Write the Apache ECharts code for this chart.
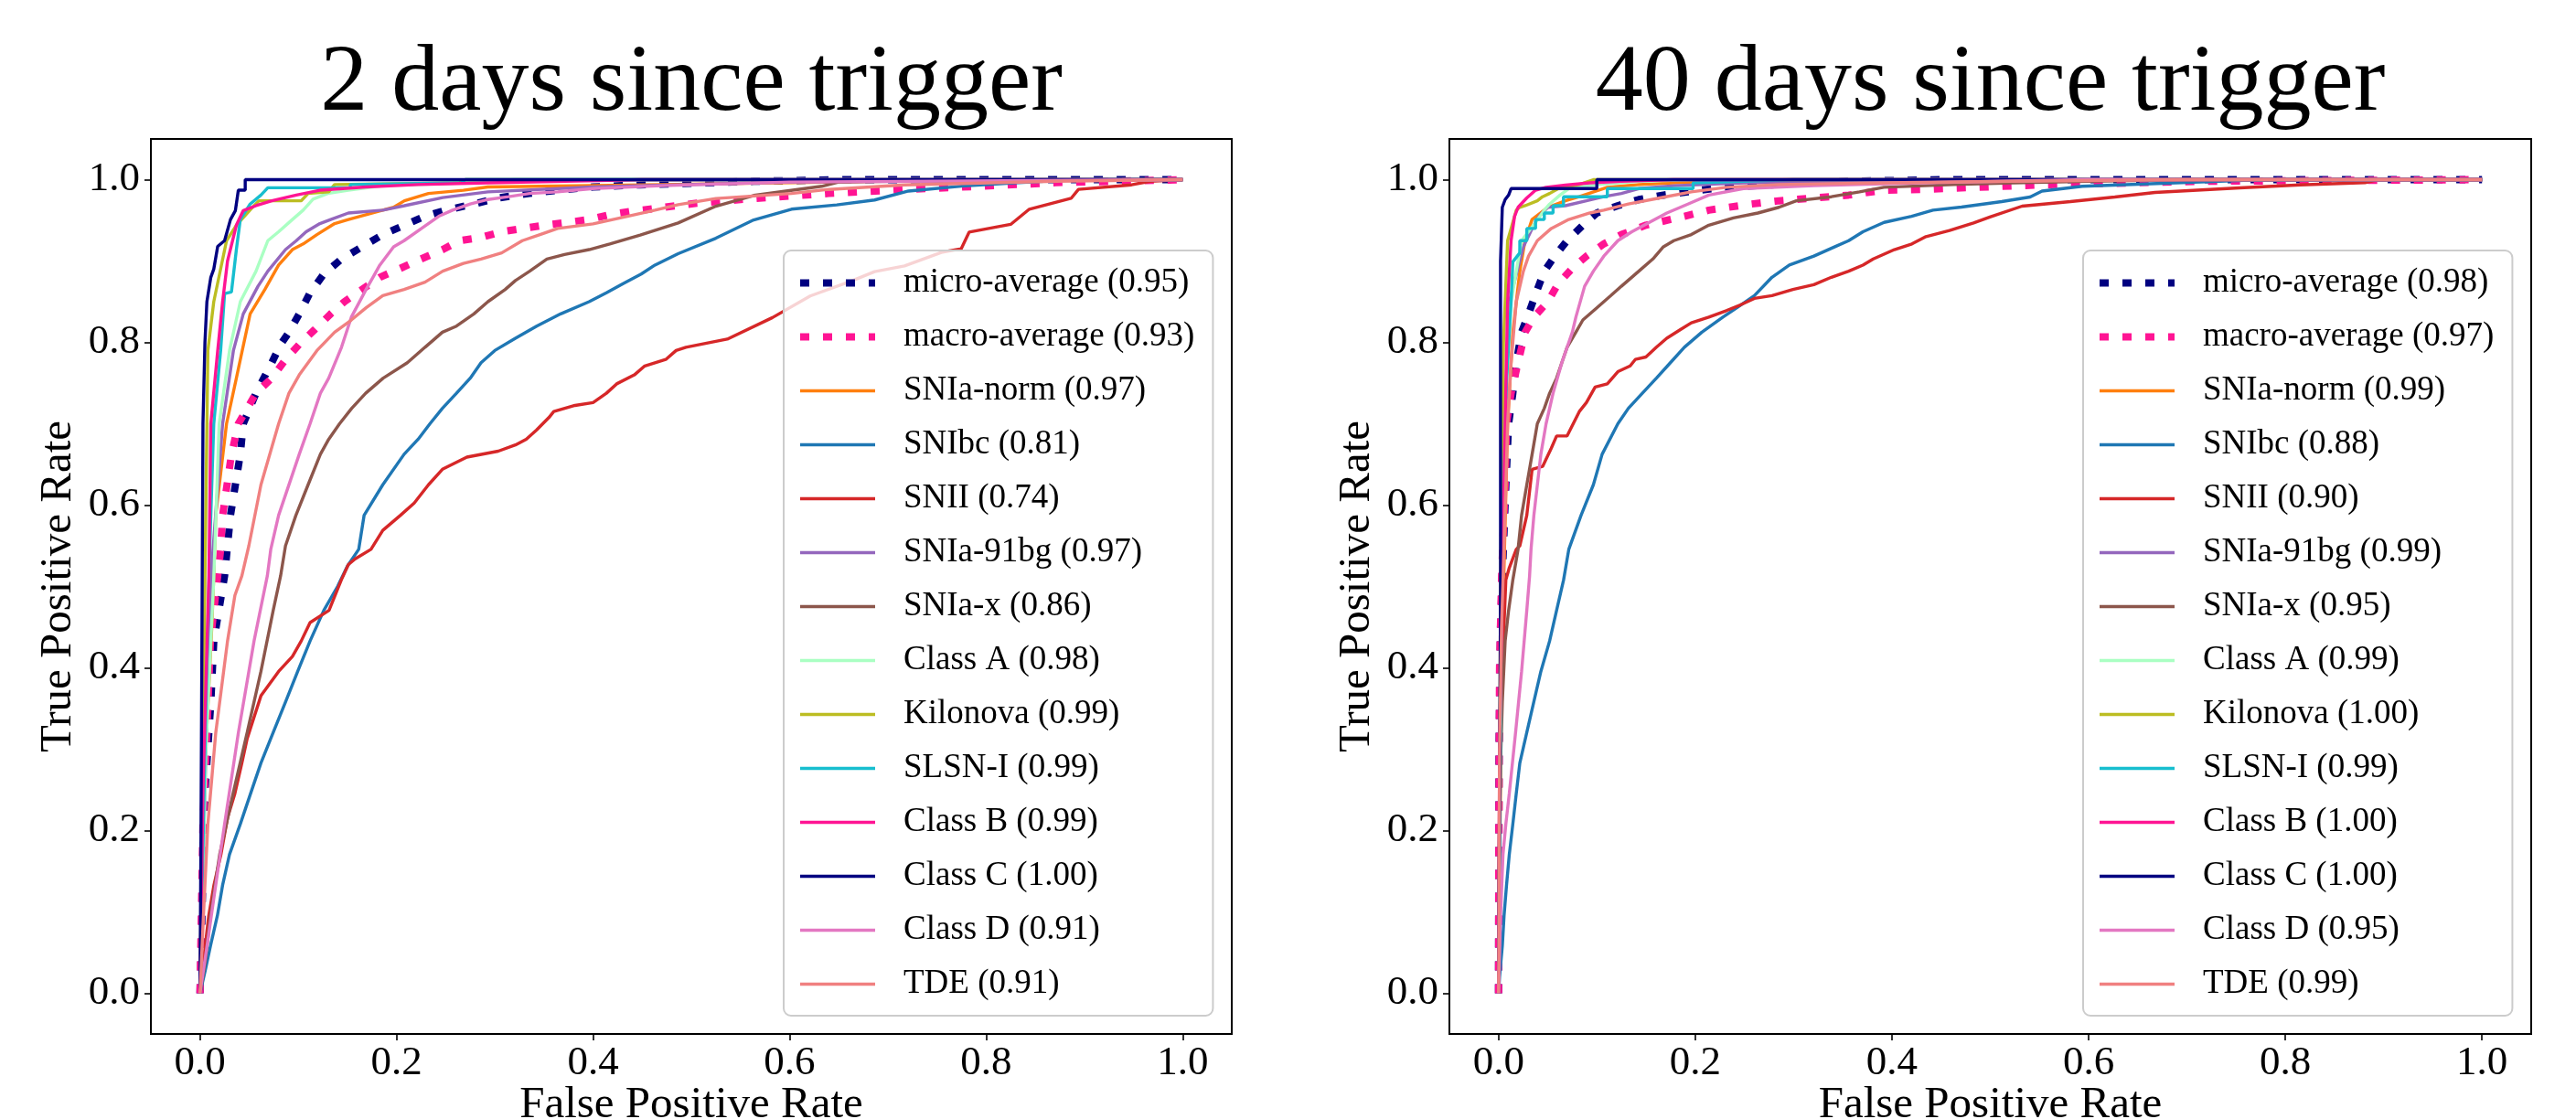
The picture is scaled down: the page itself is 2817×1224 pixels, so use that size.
<!DOCTYPE html>
<html>
<head>
<meta charset="utf-8">
<script src="https://cdn.jsdelivr.net/npm/echarts@6/dist/echarts.min.js"></script>
<style>html,body{margin:0;padding:0;background:#fff}#c{width:2817px;height:1224px}</style>
</head>
<body>
<div id="c"></div>
<script>
// ---------- data ----------
const panelTitles = ['2 days since trigger', '40 days since trigger'];
const classNames = ['micro-average','macro-average','SNIa-norm','SNIbc','SNII','SNIa-91bg','SNIa-x','Class A','Kilonova','SLSN-I','Class B','Class C','Class D','TDE'];
const aucDay2  = ['0.95','0.93','0.97','0.81','0.74','0.97','0.86','0.98','0.99','0.99','0.99','1.00','0.91','0.91'];
const aucDay40 = ['0.98','0.97','0.99','0.88','0.90','0.99','0.95','0.99','1.00','0.99','1.00','1.00','0.95','0.99'];
const tickValues = [0, 0.2, 0.4, 0.6, 0.8, 1.0];
const tickLabels = ['0.0','0.2','0.4','0.6','0.8','1.0'];
const xAxisName = 'False Positive Rate';
const yAxisName = 'True Positive Rate';

// day 2 ROC curves [FPR, TPR]
const d2_micro = [[0,0],[0.002,0.096],[0.005,0.246],[0.011,0.358],[0.014,0.433],[0.025,0.513],[0.031,0.5875],[0.041,0.6625],[0.044,0.70],[0.057,0.7375],[0.073,0.775],[0.082,0.7975],[0.0905,0.8125],[0.101,0.835],[0.112,0.861],[0.126,0.884],[0.144,0.9025],[0.165,0.9175],[0.186,0.9325],[0.208,0.944],[0.229,0.955],[0.250,0.9625],[0.279,0.97],[0.3035,0.9775],[0.335,0.983],[0.364,0.987],[0.40,0.991],[0.448,0.9936],[0.5635,0.998],[0.65,1],[1,1]];
const d2_macro = [[0,0],[0.003,0.208],[0.007,0.32],[0.0106,0.433],[0.021,0.5456],[0.023,0.5875],[0.032,0.6625],[0.039,0.70],[0.057,0.7375],[0.073,0.756],[0.087,0.779],[0.101,0.7975],[0.117,0.816],[0.133,0.835],[0.147,0.85],[0.165,0.865],[0.183,0.88],[0.204,0.891],[0.225,0.9025],[0.247,0.914],[0.264,0.925],[0.286,0.929],[0.307,0.936],[0.35,0.944],[0.3745,0.9475],[0.396,0.951],[0.417,0.957],[0.438,0.961],[0.46,0.964],[0.4845,0.968],[0.5056,0.971],[0.5635,0.9768],[0.64,0.983],[0.717,0.988],[0.794,0.9918],[0.871,0.9963],[1,1]];
const d2_snia_norm = [[0,0],[0.002,0.1],[0.005,0.28],[0.012,0.45],[0.014,0.513],[0.016,0.5875],[0.027,0.70],[0.037,0.756],[0.043,0.79],[0.051,0.835],[0.066,0.865],[0.080,0.895],[0.094,0.914],[0.105,0.921],[0.119,0.9325],[0.137,0.946],[0.151,0.951],[0.186,0.9625],[0.197,0.966],[0.208,0.974],[0.2325,0.983],[0.268,0.987],[0.293,0.991],[0.47,0.994],[0.7,0.998],[1,1]];
const d2_snibc = [[0,0],[0.0053,0.028],[0.0106,0.058],[0.0177,0.0956],[0.023,0.133],[0.030,0.1706],[0.041,0.208],[0.0515,0.2456],[0.062,0.283],[0.0745,0.3206],[0.087,0.358],[0.0994,0.3956],[0.112,0.433],[0.126,0.4706],[0.140,0.50],[0.150,0.525],[0.1615,0.5456],[0.167,0.5875],[0.186,0.625],[0.2077,0.6625],[0.222,0.681],[0.234,0.70],[0.2467,0.719],[0.261,0.7375],[0.275,0.756],[0.286,0.775],[0.300,0.79],[0.321,0.805],[0.3426,0.82],[0.367,0.835],[0.396,0.85],[0.4136,0.861],[0.431,0.8725],[0.449,0.884],[0.463,0.895],[0.4866,0.909],[0.525,0.928],[0.5635,0.9505],[0.602,0.9637],[0.648,0.969],[0.6865,0.975],[0.721,0.986],[0.775,0.992],[0.8327,0.9963],[0.89,1],[1,1]];
const d2_snii = [[0,0],[0.0053,0.058],[0.0089,0.0956],[0.0142,0.133],[0.0213,0.1706],[0.028,0.2156],[0.0355,0.2456],[0.0426,0.283],[0.048,0.313],[0.055,0.3393],[0.062,0.3656],[0.080,0.3956],[0.094,0.414],[0.103,0.433],[0.112,0.4556],[0.1313,0.4706],[0.1438,0.508],[0.151,0.527],[0.158,0.534],[0.174,0.5456],[0.186,0.569],[0.204,0.5875],[0.218,0.6025],[0.2325,0.625],[0.2467,0.644],[0.2716,0.659],[0.3035,0.6663],[0.321,0.674],[0.332,0.681],[0.3426,0.6925],[0.355,0.7075],[0.360,0.715],[0.3816,0.7225],[0.40,0.726],[0.4136,0.7375],[0.424,0.749],[0.442,0.76],[0.4526,0.771],[0.474,0.779],[0.4845,0.79],[0.4945,0.794],[0.5366,0.804],[0.5826,0.8305],[0.621,0.857],[0.663,0.8755],[0.6865,0.887],[0.717,0.894],[0.7557,0.911],[0.7746,0.915],[0.7827,0.9355],[0.825,0.945],[0.844,0.9637],[0.8865,0.977],[0.894,0.988],[0.948,0.9936],[0.967,0.998],[1,1]];
const d2_snia_91bg = [[0,0],[0.005,0.25],[0.011,0.51],[0.023,0.70],[0.034,0.79],[0.044,0.835],[0.059,0.869],[0.069,0.8875],[0.087,0.914],[0.098,0.925],[0.108,0.936],[0.122,0.946],[0.133,0.951],[0.151,0.959],[0.186,0.9625],[0.208,0.968],[0.247,0.978],[0.293,0.985],[0.40,0.991],[0.6,0.997],[1,1]];
const d2_snia_x = [[0,0],[0.0053,0.039],[0.0106,0.0956],[0.020,0.1706],[0.0337,0.2456],[0.048,0.3206],[0.062,0.3956],[0.0745,0.4706],[0.082,0.513],[0.087,0.55],[0.0976,0.5875],[0.110,0.625],[0.1225,0.6625],[0.131,0.681],[0.142,0.70],[0.1544,0.719],[0.1686,0.7375],[0.1864,0.756],[0.211,0.775],[0.229,0.794],[0.2467,0.8125],[0.261,0.82],[0.2787,0.835],[0.293,0.85],[0.3106,0.865],[0.321,0.876],[0.3355,0.8875],[0.353,0.9025],[0.371,0.908],[0.396,0.914],[0.417,0.921],[0.448,0.932],[0.4866,0.9468],[0.525,0.9674],[0.5635,0.9806],[0.6327,0.9918],[0.65,0.997],[0.756,1],[1,1]];
const d2_class_a = [[0,0],[0.006,0.3],[0.014,0.51],[0.0195,0.70],[0.030,0.79],[0.041,0.85],[0.057,0.8875],[0.069,0.925],[0.080,0.936],[0.094,0.951],[0.105,0.9625],[0.115,0.976],[0.130,0.983],[0.151,0.987],[0.186,0.9925],[0.257,0.9955],[0.32,1],[1,1]];
const d2_kilonova = [[0,0],[0.003,0.3],[0.005,0.51],[0.008,0.79],[0.014,0.85],[0.027,0.925],[0.037,0.944],[0.055,0.968],[0.060,0.974],[0.103,0.974],[0.110,0.983],[0.131,0.985],[0.137,0.994],[0.264,0.996],[0.27,1],[1,1]];
const d2_slsn = [[0,0],[0.005,0.3],[0.01,0.55],[0.014,0.70],[0.021,0.79],[0.025,0.86],[0.032,0.862],[0.037,0.914],[0.041,0.951],[0.051,0.97],[0.062,0.981],[0.069,0.99],[0.153,0.99],[0.153,0.994],[0.266,0.996],[0.27,1],[1,1]];
const d2_class_b = [[0,0],[0.003,0.25],[0.009,0.51],[0.011,0.70],[0.018,0.79],[0.023,0.85],[0.028,0.90],[0.037,0.944],[0.044,0.962],[0.057,0.968],[0.073,0.974],[0.098,0.981],[0.122,0.987],[0.169,0.991],[0.222,0.994],[0.293,0.996],[0.45,1],[1,1]];
const d2_class_c = [[0,0],[0.001,0.2],[0.002,0.45],[0.003,0.7],[0.005,0.8],[0.007,0.85],[0.011,0.88],[0.014,0.89],[0.018,0.918],[0.025,0.925],[0.031,0.951],[0.036,0.962],[0.039,0.987],[0.046,0.987],[0.046,1.0],[1,1]];
const d2_class_d = [[0,0],[0.0071,0.058],[0.016,0.133],[0.025,0.208],[0.039,0.32],[0.055,0.433],[0.0685,0.513],[0.072,0.5456],[0.080,0.5875],[0.101,0.6625],[0.112,0.70],[0.1225,0.7375],[0.131,0.756],[0.144,0.794],[0.154,0.831],[0.169,0.865],[0.176,0.88],[0.183,0.895],[0.197,0.9175],[0.2077,0.925],[0.2254,0.94],[0.243,0.955],[0.257,0.9625],[0.275,0.97],[0.293,0.9756],[0.314,0.979],[0.3355,0.983],[0.364,0.985],[0.40,0.989],[0.47,0.9925],[0.6,0.997],[1,1]];
const d2_tde = [[0,0],[0.0035,0.0956],[0.008,0.208],[0.016,0.32],[0.028,0.433],[0.0355,0.489],[0.0426,0.513],[0.0497,0.55],[0.062,0.625],[0.080,0.70],[0.0905,0.7375],[0.101,0.76],[0.119,0.79],[0.137,0.8125],[0.154,0.8275],[0.169,0.8425],[0.186,0.8575],[0.2077,0.865],[0.229,0.874],[0.247,0.8875],[0.268,0.897],[0.286,0.9025],[0.307,0.91],[0.328,0.925],[0.346,0.9325],[0.364,0.94],[0.40,0.9456],[0.435,0.955],[0.463,0.9625],[0.4866,0.9693],[0.525,0.9768],[0.602,0.983],[0.64,0.988],[0.717,0.9936],[0.871,0.998],[1,1]];

// day 40 ROC curves [FPR, TPR]
const d40_micro = [[0,0],[0.0005,0.3],[0.002,0.45],[0.0038,0.5126],[0.0074,0.625],[0.0102,0.70],[0.0145,0.7375],[0.018,0.775],[0.0234,0.8125],[0.0305,0.835],[0.0394,0.865],[0.0465,0.8875],[0.0572,0.906],[0.0697,0.925],[0.0857,0.944],[0.0999,0.959],[0.1213,0.968],[0.1426,0.9756],[0.1676,0.981],[0.1925,0.985],[0.228,0.9906],[0.285,0.994],[0.356,0.998],[0.45,1],[1,1]];
const d40_macro = [[0,0],[0.0003,0.2],[0.001,0.4],[0.0031,0.5126],[0.0067,0.625],[0.0081,0.70],[0.0127,0.7375],[0.0198,0.775],[0.027,0.8125],[0.0358,0.831],[0.0501,0.85],[0.0608,0.8725],[0.075,0.891],[0.0893,0.906],[0.107,0.921],[0.1249,0.9325],[0.1498,0.944],[0.189,0.955],[0.2138,0.9625],[0.2566,0.97],[0.285,0.974],[0.3206,0.9775],[0.356,0.981],[0.392,0.987],[0.43,0.988],[0.5526,0.9936],[0.716,0.998],[1,1]];
const d40_snia_norm = [[0,0],[0.003,0.4],[0.0092,0.70],[0.0145,0.8125],[0.0216,0.8875],[0.0269,0.925],[0.034,0.951],[0.0501,0.966],[0.0679,0.974],[0.082,0.979],[0.1106,0.9906],[0.1426,0.994],[0.2138,0.998],[0.3,1],[1,1]];
const d40_snibc = [[0,0],[0.001,0.02],[0.0038,0.058],[0.0056,0.0956],[0.0081,0.133],[0.0109,0.1706],[0.0145,0.208],[0.018,0.2456],[0.0216,0.283],[0.0287,0.3206],[0.0358,0.358],[0.043,0.3956],[0.0519,0.433],[0.059,0.4706],[0.0661,0.508],[0.0714,0.5456],[0.0839,0.5875],[0.0964,0.625],[0.1053,0.6625],[0.1213,0.70],[0.132,0.719],[0.1462,0.7375],[0.1605,0.756],[0.1747,0.775],[0.1889,0.794],[0.2067,0.8125],[0.2281,0.831],[0.2423,0.8425],[0.2601,0.8575],[0.278,0.88],[0.2957,0.895],[0.3206,0.906],[0.342,0.9175],[0.356,0.925],[0.3705,0.936],[0.392,0.9475],[0.42,0.955],[0.4417,0.9625],[0.4707,0.9663],[0.5116,0.973],[0.5405,0.9786],[0.5526,0.986],[0.5935,0.9918],[0.6757,0.9955],[0.758,0.999],[1,1]];
const d40_snii = [[0,0],[0.001,0.283],[0.002,0.358],[0.0049,0.433],[0.0074,0.508],[0.0109,0.523],[0.018,0.5456],[0.0216,0.55],[0.0287,0.5875],[0.0341,0.644],[0.0448,0.6475],[0.0536,0.67],[0.059,0.685],[0.0697,0.685],[0.0821,0.715],[0.0893,0.726],[0.0982,0.745],[0.1106,0.749],[0.1213,0.764],[0.1338,0.771],[0.139,0.779],[0.1498,0.782],[0.1605,0.794],[0.171,0.805],[0.1853,0.816],[0.196,0.824],[0.2138,0.831],[0.2316,0.839],[0.2459,0.846],[0.2601,0.854],[0.278,0.8575],[0.2993,0.865],[0.3206,0.871],[0.3384,0.88],[0.356,0.8875],[0.3705,0.895],[0.381,0.9025],[0.4025,0.914],[0.4203,0.921],[0.4346,0.93],[0.4585,0.9374],[0.483,0.9468],[0.4996,0.954],[0.5323,0.9674],[0.5815,0.973],[0.6266,0.9786],[0.6675,0.9843],[0.7535,0.9899],[0.815,0.9936],[0.881,0.9963],[0.894,1],[1,1]];
const d40_snia_91bg = [[0,0],[0.002,0.4],[0.006,0.7],[0.011,0.85],[0.0252,0.9175],[0.0358,0.944],[0.0412,0.955],[0.0501,0.966],[0.0679,0.968],[0.0893,0.974],[0.107,0.979],[0.1249,0.983],[0.1426,0.989],[0.178,0.9925],[0.249,0.996],[0.392,0.998],[0.5,1],[1,1]];
const d40_snia_x = [[0,0],[0.001,0.2],[0.002,0.283],[0.0038,0.358],[0.0067,0.433],[0.0102,0.4706],[0.0145,0.508],[0.0198,0.5456],[0.0234,0.5875],[0.0287,0.625],[0.0341,0.6625],[0.0394,0.70],[0.0465,0.719],[0.0519,0.7375],[0.059,0.756],[0.0643,0.775],[0.0697,0.794],[0.0786,0.8125],[0.0857,0.8275],[0.0999,0.8425],[0.1142,0.8575],[0.1249,0.869],[0.1426,0.8875],[0.1569,0.9025],[0.1676,0.9175],[0.1782,0.925],[0.196,0.9325],[0.2138,0.944],[0.2388,0.953],[0.2637,0.959],[0.2851,0.966],[0.3028,0.974],[0.3384,0.979],[0.367,0.985],[0.3918,0.9906],[0.463,0.994],[0.523,0.996],[0.6,0.998],[0.7,1],[1,1]];
const d40_class_a = [[0,0],[0.002,0.4],[0.0056,0.70],[0.0127,0.85],[0.0234,0.925],[0.0376,0.9475],[0.0465,0.9625],[0.0519,0.97],[0.0625,0.981],[0.0714,0.989],[0.0999,0.994],[0.1426,0.998],[0.2,1],[1,1]];
const d40_kilonova = [[0,0],[0.002,0.5],[0.005,0.8],[0.0092,0.925],[0.018,0.9625],[0.0215,0.966],[0.027,0.968],[0.0394,0.974],[0.0447,0.979],[0.0519,0.983],[0.0608,0.989],[0.082,0.994],[0.0964,1],[1,1]];
const d40_slsn = [[0,0],[0.003,0.5],[0.008,0.75],[0.0127,0.85],[0.0145,0.899],[0.0216,0.91],[0.0216,0.925],[0.0287,0.925],[0.0287,0.94],[0.0376,0.94],[0.0376,0.951],[0.0465,0.951],[0.0465,0.959],[0.0554,0.959],[0.0554,0.968],[0.066,0.968],[0.066,0.979],[0.1106,0.979],[0.1106,0.989],[0.1978,0.989],[0.1978,0.996],[0.3,1],[1,1]];
const d40_class_b = [[0,0],[0.001,0.3],[0.0038,0.5126],[0.0067,0.70],[0.0092,0.85],[0.0127,0.925],[0.0163,0.955],[0.0198,0.966],[0.0287,0.9775],[0.0376,0.987],[0.0483,0.9906],[0.0679,0.9933],[0.0928,0.996],[0.1249,0.998],[0.178,1],[1,1]];
const d40_class_c = [[0,0],[0.002,0.5],[0.002,0.9],[0.0038,0.966],[0.0067,0.9756],[0.0102,0.981],[0.0127,0.989],[0.0999,0.989],[0.0999,1],[1,1]];
const d40_class_d = [[0,0],[0.002,0.0956],[0.0045,0.1706],[0.0074,0.208],[0.0109,0.2456],[0.0173,0.3206],[0.0234,0.3956],[0.0287,0.4706],[0.0315,0.5126],[0.033,0.5456],[0.0359,0.5875],[0.043,0.6625],[0.0483,0.70],[0.0554,0.7375],[0.0643,0.775],[0.075,0.8125],[0.0786,0.831],[0.0875,0.869],[0.0964,0.8875],[0.107,0.906],[0.1213,0.925],[0.1355,0.936],[0.1533,0.9475],[0.1711,0.959],[0.1925,0.97],[0.2138,0.981],[0.249,0.989],[0.3206,0.9925],[0.4275,0.996],[0.6,1],[1,1]];
const d40_tde = [[0,0],[0.001,0.3],[0.003,0.45],[0.0056,0.55],[0.0092,0.70],[0.0127,0.775],[0.018,0.85],[0.0252,0.8875],[0.0305,0.906],[0.0394,0.925],[0.0536,0.94],[0.0714,0.951],[0.0928,0.959],[0.107,0.9625],[0.132,0.97],[0.164,0.9775],[0.196,0.985],[0.2316,0.9906],[0.285,0.994],[0.392,0.996],[0.523,0.998],[0.7,1],[1,1]];

const day2Curves  = [d2_micro, d2_macro, d2_snia_norm, d2_snibc, d2_snii, d2_snia_91bg, d2_snia_x, d2_class_a, d2_kilonova, d2_slsn, d2_class_b, d2_class_c, d2_class_d, d2_tde];
const day40Curves = [d40_micro, d40_macro, d40_snia_norm, d40_snibc, d40_snii, d40_snia_91bg, d40_snia_x, d40_class_a, d40_kilonova, d40_slsn, d40_class_b, d40_class_c, d40_class_d, d40_tde];

// ---------- styling ----------
const colors = ['#000080','#ff1493','#ff7f0e','#1f77b4','#d62728','#9467bd','#8c564b','#aaffc3','#bcbd22','#17becf','#ff1493','#000080','#e377c2','#f08080'];
const FONT = "'Liberation Serif', 'DejaVu Serif', serif";

const grids = [
  {left: 165, top: 152, width: 1182, height: 979},
  {left: 1585, top: 152, width: 1183, height: 979}
];
const legendPos = [{left: 857, top: 274}, {left: 2278, top: 274}];

function makeAxis(kind, idx) {
  const isX = kind === 'x';
  return {
    type: 'value', gridIndex: idx, min: -0.05, max: 1.05,
    name: isX ? xAxisName : yAxisName,
    nameLocation: 'middle',
    nameGap: isX ? 54 : 76,
    nameMoveOverlap: false,
    nameTextStyle: {fontFamily: FONT, fontSize: 49, color: '#000'},
    axisLine: {show: false, onZero: false},
    splitLine: {show: false},
    axisTick: {show: true, length: 7, lineStyle: {color: '#000', width: 1.6}, customValues: tickValues},
    axisLabel: {
      show: true, margin: isX ? 10 : 12, fontFamily: FONT, fontSize: 45, color: '#000',
      customValues: tickValues,
      formatter: v => { const i = tickValues.findIndex(t => Math.abs(t - v) < 1e-9); return i >= 0 ? tickLabels[i] : ''; }
    }
  };
}

const series = [];
const legends = [];
[[day2Curves, aucDay2], [day40Curves, aucDay40]].forEach(([curves, aucs], p) => {
  const names = classNames.map((n, i) => `${n} (${aucs[i]})`);
  curves.forEach((pts, i) => {
    const dotted = i < 2;
    series.push({
      type: 'line', name: names[i], xAxisIndex: p, yAxisIndex: p,
      data: pts, symbol: 'none', showSymbol: false, animation: false, clip: true,
      lineStyle: dotted
        ? {color: colors[i], width: 8, type: [10, 15], cap: 'butt'}
        : {color: colors[i], width: 3.4, cap: 'butt'},
      itemStyle: {color: colors[i]},
      z: dotted ? 2 : 3
    });
  });
  legends.push({
    orient: 'vertical', left: legendPos[p].left, top: legendPos[p].top,
    data: names, selectedMode: false,
    itemWidth: 82, itemHeight: 14, itemGap: 22,
    padding: [17, 20, 16, 14],
    backgroundColor: 'rgba(255,255,255,0.8)', borderColor: '#cccccc', borderWidth: 2, borderRadius: 8,
    lineStyle: {width: 'inherit'},
    itemStyle: {color: 'rgba(0,0,0,0)', borderWidth: 0, opacity: 0},
    textStyle: {fontFamily: FONT, fontSize: 37, lineHeight: 37, color: '#000', padding: [0, 0, 0, 26]}
  });
});

const option = {
  backgroundColor: '#fff',
  animation: false,
  title: panelTitles.map((t, p) => ({
    text: t, left: grids[p].left + grids[p].width / 2, top: 41, padding: 0, textAlign: 'center',
    textStyle: {fontFamily: FONT, fontSize: 104, fontWeight: 'normal', color: '#000'}
  })),
  grid: grids.map(g => Object.assign({show: true, borderColor: '#000', borderWidth: 2, backgroundColor: 'transparent', outerBoundsMode: 'none', containLabel: false}, g)),
  xAxis: [makeAxis('x', 0), makeAxis('x', 1)],
  yAxis: [makeAxis('y', 0), makeAxis('y', 1)],
  legend: legends,
  series: series
};

const chart = echarts.init(document.getElementById('c'), null, {renderer: 'canvas'});
chart.setOption(option);
</script>
</body>
</html>
